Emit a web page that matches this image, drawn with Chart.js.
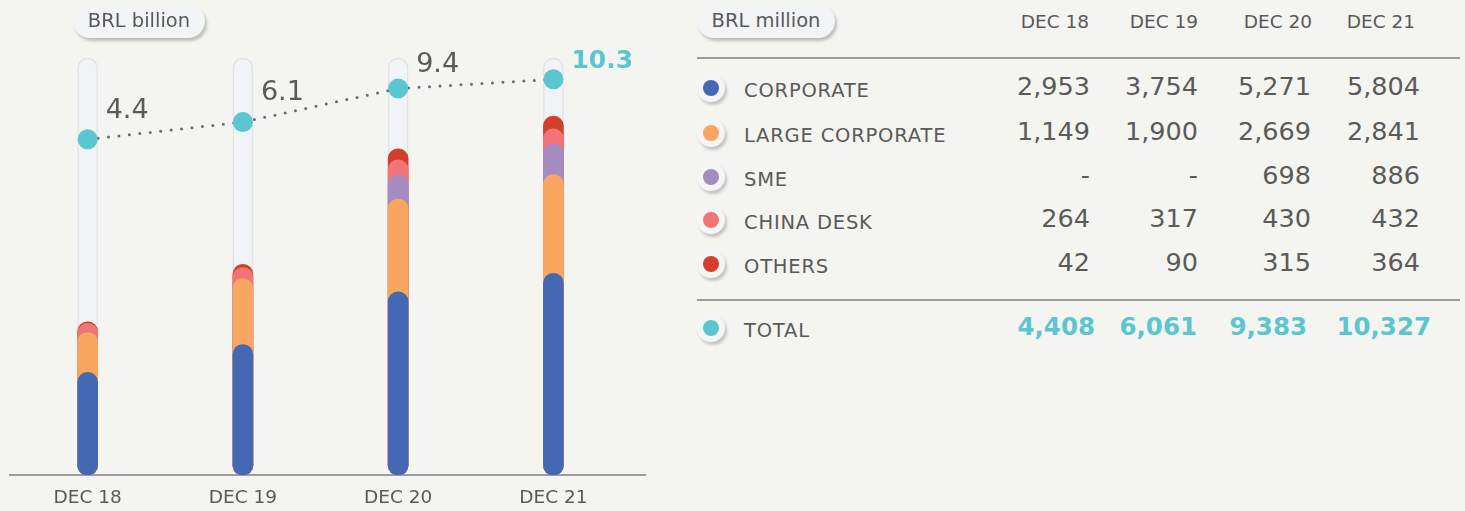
<!DOCTYPE html>
<html lang="en">
<head>
    <meta charset="UTF-8">
    <title>Loan portfolio by segment</title>
    <script src="https://cdn.jsdelivr.net/npm/chart.js"></script>
    <style>
        body {
            margin: 0;
            width: 1465px;
            height: 511px;
            background-color: #f4f4f0;
            font-family: 'DejaVu Sans', sans-serif;
            color: #5a5a5a;
            position: relative;
            overflow: hidden;
        }
        #chart-box {
            position: absolute;
            left: 0;
            top: 0;
            width: 655px;
            height: 511px;
        }
        .pill {
            position: absolute;
            top: 4px;
            height: 34px;
            line-height: 34px;
            border-radius: 17px;
            background: #f3f4f6;
            box-shadow: 2px 3px 3px rgba(0, 0, 0, 0.22);
            font-size: 19.5px;
            text-align: center;
            color: #5a5a5a;
        }
        .hline {
            position: absolute;
            left: 697px;
            width: 763px;
            height: 0;
            border-top: 2px solid #9c9c9c;
        }
        .cell {
            position: absolute;
            white-space: nowrap;
            transform: translateY(-50%);
        }
        .num {
            font-size: 25.5px;
            text-align: right;
            width: 140px;
        }
        .lbl {
            left: 744px;
            font-size: 19.5px;
            letter-spacing: 0.8px;
        }
        .head {
            font-size: 18.5px;
            text-align: right;
            width: 140px;
        }
        .total {
            color: #5bc6d0;
            font-weight: bold;
            font-size: 24.5px;
        }
        .dot {
            position: absolute;
            left: 697px;
            width: 28px;
            height: 28px;
            border-radius: 50%;
            background: #f5f5f6;
            box-shadow: 2px 3px 3px rgba(0, 0, 0, 0.2);
            transform: translateY(-50%);
        }
        .dot span {
            position: absolute;
            left: 6px;
            top: 6px;
            width: 16px;
            height: 16px;
            border-radius: 50%;
        }
    </style>
</head>
<body>
    <div id="chart-box"><canvas id="loanChart"></canvas></div>
    <div class="pill" style="left:73px;width:132px;">BRL billion</div>
    <div class="pill" style="left:697px;width:138px;">BRL million</div>
    <div class="hline" style="top:57px;"></div>
    <div class="hline" style="top:299px;"></div>
    <div id="table"></div>

    <script>
        // values in BRL million
        const periods = ['DEC 18', 'DEC 19', 'DEC 20', 'DEC 21'];
        const segments = ['CORPORATE', 'LARGE CORPORATE', 'SME', 'CHINA DESK', 'OTHERS'];
        const corporate = [2953, 3754, 5271, 5804];
        const largeCorporate = [1149, 1900, 2669, 2841];
        const sme = [0, 0, 698, 886];
        const chinaDesk = [264, 317, 430, 432];
        const others = [42, 90, 315, 364];
        const totals = [4408, 6061, 9383, 10327];
        const totalsBillion = [4.4, 6.1, 9.4, 10.3];
        const trackMax = 12000;

        const segColors = ['#4468b3', '#f9a660', '#a68bc0', '#f27476', '#d2402d'];
        const cyan = '#5bc6d0';
        const series = [corporate, largeCorporate, sme, chinaDesk, others];

        // each segment is drawn as a capsule from 0 to its running total,
        // the lower segments sitting in front of the upper ones
        const cumulative = [];
        series.forEach((s, i) => {
            cumulative.push(s.map((v, j) => v + (i > 0 ? cumulative[i - 1][j] : 0)));
        });

        const barBase = {
            type: 'bar',
            grouped: false,
            barThickness: 20,
            borderRadius: 10,
            borderSkipped: false,
            yAxisID: 'y'
        };

        const datasets = [{
            type: 'line',
            label: 'Total (BRL billion)',
            data: totalsBillion,
            yAxisID: 'y2',
            borderColor: '#6a6a6a',
            borderWidth: 3,
            borderDash: [0, 10.5],
            borderCapStyle: 'round',
            pointRadius: 10,
            pointBackgroundColor: cyan,
            pointBorderWidth: 0,
            tension: 0
        }];
        segments.forEach((name, i) => {
            datasets.push(Object.assign({}, barBase, {
                label: name,
                data: cumulative[i],
                backgroundColor: segColors[i]
            }));
        });
        datasets.push(Object.assign({}, barBase, {
            label: 'track',
            data: periods.map(() => trackMax),
            backgroundColor: '#f2f3f6',
            borderColor: '#e1e2e6',
            borderWidth: 1.5
        }));

        const valueLabels = {
            id: 'valueLabels',
            afterDatasetsDraw(chart) {
                const ctx = chart.ctx;
                const meta = chart.getDatasetMeta(0);
                const lift = [28, 29, 24, 18];
                ctx.save();
                ctx.textAlign = 'left';
                ctx.textBaseline = 'middle';
                meta.data.forEach((pt, i) => {
                    const last = i === meta.data.length - 1;
                    ctx.font = last ? 'bold 25px "DejaVu Sans"' : '27px "DejaVu Sans"';
                    ctx.fillStyle = last ? cyan : '#5a5a5a';
                    ctx.fillText(totalsBillion[i].toFixed(1), pt.x + 18, pt.y - lift[i]);
                });
                ctx.restore();
            }
        };

        new Chart(document.getElementById('loanChart'), {
            type: 'bar',
            data: { labels: periods, datasets: datasets },
            options: {
                responsive: true,
                maintainAspectRatio: false,
                animation: false,
                layout: { padding: { top: 58, left: 9, right: 5, bottom: 0 } },
                plugins: { legend: { display: false }, tooltip: { enabled: false } },
                scales: {
                    x: {
                        offset: true,
                        grid: { display: false, drawTicks: false },
                        border: { display: true, color: '#9c9c9c', width: 2 },
                        ticks: { color: '#5a5a5a', font: { family: 'DejaVu Sans', size: 18.5 }, padding: 12, maxRotation: 0 },
                        // leave a little empty room right of the last bar, the baseline runs on
                        afterBuildTicks(scale) { scale._valueRange += 0.09; },
                        afterFit(scale) { scale.height = 36; }
                    },
                    y: { display: false, min: 0, max: trackMax },
                    y2: { display: false, min: -28.6, max: 12.4 }
                }
            },
            plugins: [valueLabels]
        });

        // right-hand table
        const table = document.getElementById('table');
        const headRight = [1089, 1198, 1312, 1415];
        const colRight = [1090, 1198, 1311, 1420];
        const totalRight = [1095, 1197, 1307, 1431];
        const fmt = v => v === 0 ? '-' : v.toLocaleString('en-US');

        function addCell(cls, text, style) {
            const d = document.createElement('div');
            d.className = 'cell ' + cls;
            d.textContent = text;
            Object.assign(d.style, style);
            table.appendChild(d);
        }

        periods.forEach((p, j) => {
            addCell('head', p, { left: (headRight[j] - 140) + 'px', top: '21px' });
        });

        const rowY = [86, 131, 175, 218, 262];
        function addRow(name, values, y, color, isTotal) {
            const dot = document.createElement('div');
            dot.className = 'dot';
            dot.style.top = (y + 2) + 'px';
            dot.innerHTML = '<span style="background:' + color + '"></span>';
            table.appendChild(dot);
            addCell('lbl', name, { top: (y + 4) + 'px' });
            const right = isTotal ? totalRight : colRight;
            values.forEach((v, j) => {
                addCell('num' + (isTotal ? ' total' : ''), fmt(v), { left: (right[j] - 140) + 'px', top: y + 'px' });
            });
        }
        segments.forEach((name, i) => addRow(name, series[i], rowY[i], segColors[i], false));
        addRow('TOTAL', totals, 326, cyan, true);
    </script>
</body>
</html>
